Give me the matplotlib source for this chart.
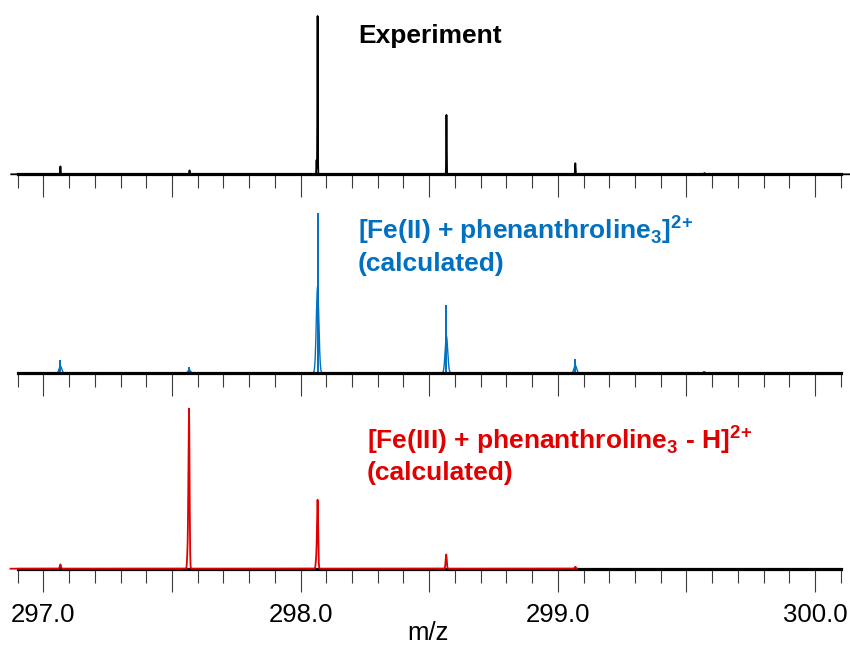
import numpy as np
import matplotlib
matplotlib.use("Agg")
import matplotlib.pyplot as plt
from matplotlib.ticker import MultipleLocator

plt.rcParams['font.family'] = ['Liberation Sans', 'DejaVu Sans']
plt.rcParams['mathtext.fontset'] = 'custom'
plt.rcParams['mathtext.rm'] = 'Liberation Sans'
plt.rcParams['mathtext.bf'] = 'Liberation Sans:bold'

# ---- data (m/z, relative intensity) ----
exp_mz = [297.066, 297.568, 298.062, 298.066, 298.567, 299.068, 299.570]
exp_int = [0.05, 0.025, 0.09, 1.0, 0.375, 0.07, 0.008]

fe2_mz = [297.066, 297.567, 298.066, 298.567, 299.068, 299.570]
fe2_int = [0.08, 0.035, 1.0, 0.425, 0.09, 0.01]
fe2_profile_frac = 0.54

fe3_mz = [297.066, 297.561, 297.566, 298.061, 298.066, 298.566, 299.068]
fe3_int = [0.027, 0.11, 1.0, 0.06, 0.43, 0.09, 0.012]

xmin, xmax = 296.9, 300.1
xticks_major = [297.0, 297.5, 298.0, 298.5, 299.0, 299.5, 300.0]
tick_labels = ["297.0", "", "298.0", "", "299.0", "", "300.0"]

exp_label = "Experiment"
fe2_label1 = r"[Fe(II) + phenanthroline$_\mathbf{3}$]$^\mathbf{2}$$^\mathbf{+}$"
fe3_label1 = r"[Fe(III) + phenanthroline$_\mathbf{3}$ - H]$^\mathbf{2}$$^\mathbf{+}$"
calc_label = "(calculated)"
xlabel = "m/z"

BLUE = "#0070C0"
RED = "#E00000"


def profile(x, centers, heights, sigma):
    y = np.zeros_like(x)
    for c, h in zip(centers, heights):
        y += h * np.exp(-0.5 * ((x - c) / sigma) ** 2)
    return y


W, H = 850, 648
fig = plt.figure(figsize=(W / 100, H / 100), dpi=100)


def make_ax(base_px, top_px):
    left = 17.7 / W
    width = 823.0 / W
    bottom = 1 - base_px / H
    height = (base_px - top_px) / H
    ax = fig.add_axes([left, bottom, width, height])
    ax.set_xlim(xmin, xmax)
    ax.set_ylim(0, 1)
    for s in ['left', 'right', 'top']:
        ax.spines[s].set_visible(False)
    ax.spines['bottom'].set_linewidth(2.3)
    ax.spines['bottom'].set_color('black')
    ax.set_yticks([])
    ax.set_xticks(xticks_major)
    ax.xaxis.set_minor_locator(MultipleLocator(0.1))
    ax.tick_params(axis='x', which='major', direction='out', length=16.5,
                   width=0.8, color='#3a3a3a', labelsize=18.5, pad=8.5)
    ax.tick_params(axis='x', which='minor', direction='out', length=10,
                   width=0.8, color='#3a3a3a')
    ax.patch.set_alpha(0)
    return ax


ax1 = make_ax(174.3, 16)
ax2 = make_ax(373, 213)
ax3 = make_ax(568.7, 410)

# Experiment
x1 = np.linspace(296.875, 300.14, 60000)
y_exp = profile(x1, exp_mz, exp_int, 0.0009)
ax1.plot(x1, y_exp, color='black', lw=1.3, zorder=3, clip_on=False)
ax1.set_xticklabels([])

# Fe(II) calculated: sticks + profile
x2 = np.linspace(xmin, xmax, 60000)
y_fe2 = profile(x2, fe2_mz, [h * fe2_profile_frac for h in fe2_int], 0.005)
ax2.plot(x2, y_fe2, color=BLUE, lw=1.0, zorder=2, clip_on=False)
ax2.vlines(fe2_mz, 0, fe2_int, color=BLUE, lw=1.4, zorder=2)
ax2.set_xticklabels([])

# Fe(III) calculated
x3 = np.linspace(296.872, 299.075, 50000)
y_fe3 = profile(x3, fe3_mz, fe3_int, 0.0022)
ax3.plot(x3, y_fe3, color=RED, lw=1.3, zorder=3, clip_on=False)
ax3.set_xticklabels(tick_labels)

# texts
def ftext(xp, yp, s, **kw):
    fig.text(xp / W, 1 - yp / H, s, **kw)

ftext(358, 42.7, exp_label, fontsize=19, fontweight='bold', color='black', va='baseline')
ftext(358, 238.5, fe2_label1, fontsize=19, fontweight='bold', color=BLUE, va='baseline')
ftext(358, 271.5, calc_label, fontsize=19, fontweight='bold', color=BLUE, va='baseline')
ftext(367, 448.5, fe3_label1, fontsize=19, fontweight='bold', color=RED, va='baseline')
ftext(367, 480, calc_label, fontsize=19, fontweight='bold', color=RED, va='baseline')
ftext(428, 633, xlabel, fontsize=18.5, color='black', va='center', ha='center')

fig.savefig("out.png", dpi=100)
